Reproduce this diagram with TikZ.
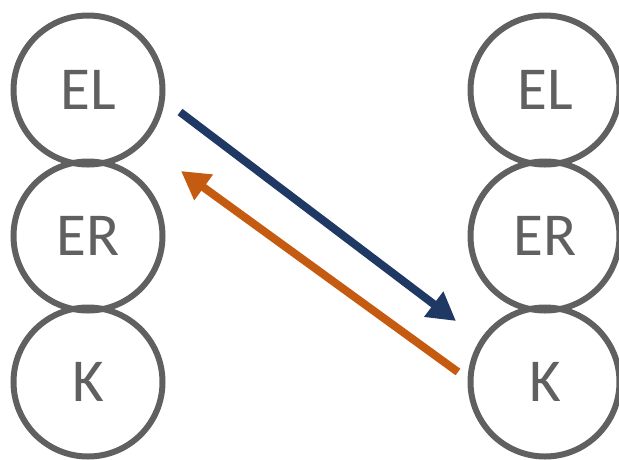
\documentclass[tikz,border=0pt]{standalone}
\usepackage{fontspec}
\setmainfont{Carlito}
\usetikzlibrary{arrows.meta}
\definecolor{ringgray}{HTML}{606060}
\definecolor{navy}{HTML}{1F3864}
\definecolor{rust}{HTML}{C55A11}
\tikzset{
  ring/.style={circle, draw=ringgray, line width=6pt, minimum size=149pt, inner sep=0pt, text=ringgray, font=\fontsize{61}{63}\selectfont},
  arr/.style={line width=8pt, -{Triangle[length=28pt,width=30pt]}},
}
\begin{document}
\begin{tikzpicture}[x=1pt,y=-1pt]
\useasboundingbox (0,0) rectangle (619,459);
\node[ring] (el1) at (88,90) {EL};
\node[ring] (er1) at (88,236) {ER};
\node[ring] (k1) at (88,382) {K};
\node[ring] (el2) at (545,90) {EL};
\node[ring] (er2) at (545,236) {ER};
\node[ring] (k2) at (545,382) {K};
\coordinate (bs) at (180,112);
\coordinate (be) at (456,321);
\coordinate (os) at (458,372);
\coordinate (oe) at (181,171);
\draw[arr, draw=navy, fill=navy] (bs) -- (be);
\draw[arr, draw=rust, fill=rust] (os) -- (oe);
\end{tikzpicture}
\end{document}
